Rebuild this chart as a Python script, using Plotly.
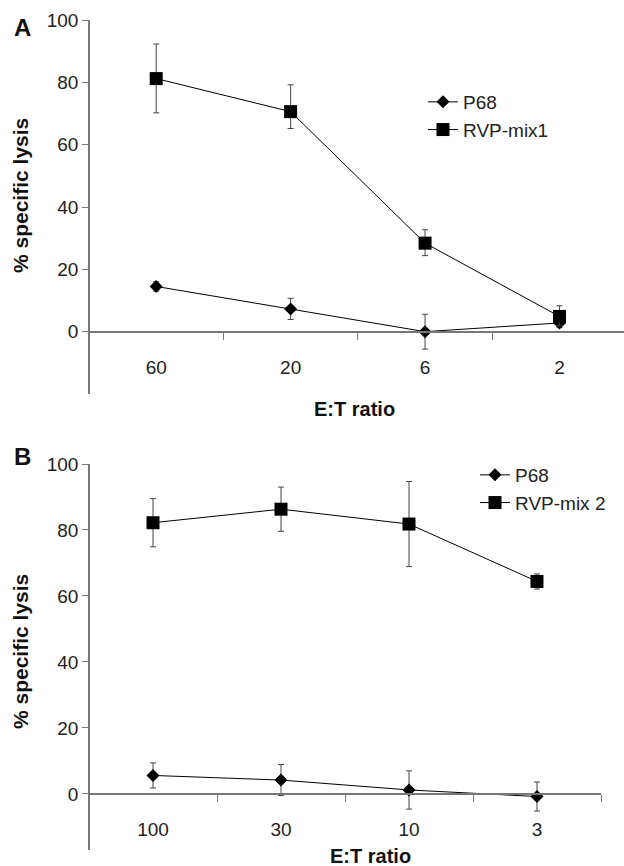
import plotly.graph_objects as go

# Panel A data
cats_a = ["60", "20", "6", "2"]
p68_a = [14.5, 7.3, 0.0, 2.8]
p68_a_err = [1.5, 3.4, 5.6, 1.5]
rvp1_a = [81.2, 70.6, 28.4, 4.9]
rvp1_a_up = [11.1, 8.6, 4.3, 3.4]
rvp1_a_dn = [11.0, 5.4, 4.0, 3.0]

# Panel B data
cats_b = ["100", "30", "10", "3"]
p68_b = [5.6, 4.2, 1.2, -0.8]
p68_b_err = [3.8, 4.7, 5.8, 4.4]
rvp2_b = [82.2, 86.3, 81.8, 64.4]
rvp2_b_err = [7.3, 6.7, 12.9, 2.3]

yticks = [0, 20, 40, 60, 80, 100]

FONT = "Liberation Sans, Arial, Helvetica, sans-serif"
AX = "#777777"
W, H = 624, 866

def px_y(p):
    return 1 - p / H

def px_x(p):
    return p / W

fig = go.Figure()

def add_series(x, y, up, dn, sym, size, name, xa, ya, legend):
    fig.add_trace(go.Scatter(
        x=x, y=y, name=name, mode="lines+markers",
        line=dict(color="black", width=1),
        marker=dict(symbol=sym, size=size, color="black"),
        error_y=dict(type="data", array=up, arrayminus=dn, symmetric=False,
                     color="#444444", thickness=1, width=3),
        xaxis=xa, yaxis=ya, legend=legend,
    ))

add_series(cats_a, p68_a, p68_a_err, p68_a_err, "diamond", 10, "P68", "x", "y", "legend")
add_series(cats_a, rvp1_a, rvp1_a_up, rvp1_a_dn, "square", 13, "RVP-mix1", "x", "y", "legend")
add_series(cats_b, p68_b, p68_b_err, p68_b_err, "diamond", 10, "P68", "x2", "y2", "legend2")
add_series(cats_b, rvp2_b, rvp2_b_err, rvp2_b_err, "square", 13, "RVP-mix 2", "x2", "y2", "legend2")

tickfont = dict(family=FONT, size=19, color="#222222")
xcommon = dict(type="category", showline=True, linecolor=AX, linewidth=1.5,
               ticks="outside", tickson="boundaries", ticklen=7, tickcolor=AX,
               showgrid=False, zeroline=False, tickfont=tickfont,
               ticklabelstandoff=18, anchor="free", automargin=False)
ycommon = dict(showline=True, linecolor=AX, linewidth=1.5, ticks="outside",
               ticklen=6, tickcolor=AX, showgrid=False, zeroline=False,
               tickvals=yticks, tickfont=tickfont, anchor="free",
               position=px_x(89), automargin=False)

fig.update_layout(
    width=W, height=H, margin=dict(l=0, r=0, t=0, b=0, autoexpand=False),
    paper_bgcolor="white", plot_bgcolor="white",
    font=dict(family=FONT, color="#222222"),
    xaxis=dict(domain=[px_x(89), 1.0], range=[-0.5, 3.48],
               position=px_y(332), **xcommon),
    yaxis=dict(domain=[px_y(394), px_y(20)], range=[-20, 100], **ycommon),
    xaxis2=dict(domain=[px_x(89), px_x(601)], range=[-0.5, 3.5],
                position=px_y(794), **xcommon),
    yaxis2=dict(domain=[px_y(850), px_y(464)], range=[-17, 100], **ycommon),
    legend=dict(x=px_x(423), y=px_y(83), xanchor="left", yanchor="top",
                font=dict(family=FONT, size=19, color="#222222"),
                bgcolor="rgba(0,0,0,0)", tracegroupgap=0),
    legend2=dict(x=px_x(475), y=px_y(456), xanchor="left", yanchor="top",
                 font=dict(family=FONT, size=19, color="#222222"),
                 bgcolor="rgba(0,0,0,0)", tracegroupgap=0),
    showlegend=True,
)

ann = []
def title_ann(text, x, y, size, angle=0):
    ann.append(dict(text=text, x=px_x(x), y=px_y(y), xref="paper", yref="paper",
                    showarrow=False, textangle=angle, xanchor="center", yanchor="middle",
                    font=dict(family=FONT, size=size, color="#111111")))

title_ann("<b>A</b>", 22, 28, 24)
title_ann("<b>B</b>", 22, 456, 24)
title_ann("<b>% specific lysis</b>", 20, 196, 21, -90)
title_ann("<b>% specific lysis</b>", 20, 652, 21, -90)
title_ann("<b>E:T ratio</b>", 354, 409, 20)
title_ann("<b>E:T ratio</b>", 370, 856, 20)
fig.update_layout(annotations=ann)

fig.write_html("out.html")
